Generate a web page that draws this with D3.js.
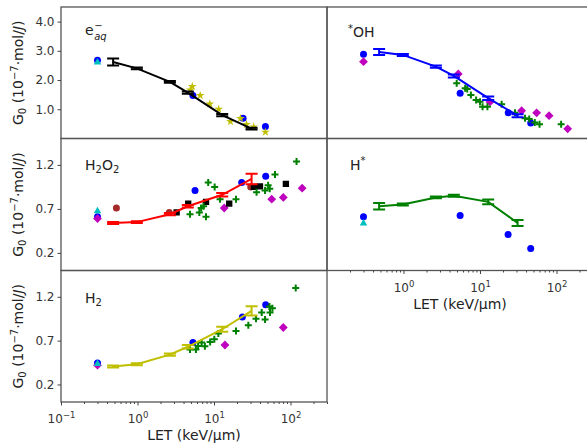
<!DOCTYPE html>
<html lang="en">
<head>
<meta charset="UTF-8">
<title>G0 versus LET</title>
<script src="https://d3js.org/d3.v7.min.js"></script>
<style>
  body { margin: 0; background: #fff; }
  text { font-family: "DejaVu Sans", sans-serif; fill: #222; }
  .frame { fill: none; stroke: #555; stroke-width: 1.3; }
  .axis path { display: none; }
  .axis line { stroke: #444; stroke-width: 1; }
  .axis text { font-size: 12px; fill: #333; font-family: "DejaVu Sans", sans-serif; }
  .sim { fill: none; stroke-width: 2; }
</style>
</head>
<body>
<div id="chart"></div>
<script>
const W = 587, H = 448;

// simulated points, same LET for every species (keV/um)
const letSim = [0.48, 0.98, 2.65, 4.55, 12.8, 31];

const eaqSim = [2.62, 2.40, 1.94, 1.57, 0.80, 0.34];
const eaqErr = [0.12, 0.03, 0.03, 0.04, 0.04, 0.03];
const ohSim = [2.96, 2.86, 2.46, 2.14, 1.38, 0.78];
const ohErr = [0.1, 0.035, 0.035, 0.05, 0.06, 0.05];
const h2o2Sim = [0.54, 0.55, 0.64, 0.73, 0.86, 1.04];
const h2o2Err = [0.012, 0.01, 0.012, 0.015, 0.02, 0.06];
const hSim = [0.73, 0.75, 0.83, 0.85, 0.78, 0.54];
const hErr = [0.036, 0.012, 0.01, 0.012, 0.027, 0.034];
const h2Sim = [0.405, 0.43, 0.54, 0.63, 0.83, 1.04];
const h2Err = [0.012, 0.012, 0.012, 0.02, 0.028, 0.053];

// measured values [LET, G]
const eaqBlue = [[0.3, 2.68], [5.3, 1.47], [24, 0.69], [47, 0.41]];
const eaqCyan = [[0.3, 2.62]];
const eaqStars = [[5.2, 1.78], [4.9, 1.66], [6.6, 1.47], [8.8, 1.18], [11.5, 1.0], [16.4, 0.58],
  [22.2, 0.69], [26.6, 0.48], [33, 0.40], [47, 0.22]];

const ohBlue = [[0.3, 2.88], [5.5, 1.55], [23.4, 0.88], [46, 0.53]];
const ohMag = [[0.3, 2.63], [5.2, 2.21], [13.5, 1.25], [35, 0.95], [55, 0.88], [80, 0.78], [140, 0.33]];
const ohGreen = [[4.96, 1.89], [6.4, 1.72], [6.8, 1.69], [7.6, 1.49], [8.9, 1.32], [10, 1.26], [10.8, 1.09],
  [12.5, 1.09], [19.2, 1.17], [28.7, 0.88], [38.8, 0.69], [44, 0.67], [52, 0.55], [60, 0.49], [115, 0.49]];

const h2o2Blue = [[0.3, 0.61], [5.65, 0.91], [23, 1.0], [47.4, 1.07]];
const h2o2Mag = [[0.3, 0.59], [13.6, 0.71], [56.8, 0.81], [80.5, 0.83], [142, 0.935]];
const h2o2Cyan = [[0.3, 0.68]];
const h2o2Brown = [[0.53, 0.71], [2.6, 0.66], [30.2, 0.95]];
const h2o2Black = [[3.25, 0.66], [4.6, 0.76], [7.86, 0.78], [15.8, 0.76], [33.3, 0.95], [39.9, 0.955], [87, 0.985]];
const h2o2Green = [[4.86, 0.64], [6.43, 0.66], [6.8, 0.71], [7.3, 0.73], [7.86, 0.61], [8.4, 1.0], [10.2, 0.95],
  [12, 0.81], [19.4, 0.81], [36, 0.89], [46.5, 0.91], [51, 0.97], [53.5, 0.93], [62.7, 1.09], [120, 1.24]];

const hBlue = [[0.3, 0.61], [5.5, 0.625], [23.3, 0.41], [46, 0.25]];
const hCyan = [[0.3, 0.54]];

const h2Blue = [[0.3, 0.445], [5.3, 0.68], [23.5, 0.97], [47.4, 1.11]];
const h2Mag = [[0.3, 0.42], [13.9, 0.65], [80.5, 0.85]];
const h2Cyan = [[0.3, 0.44]];
const h2Green = [[4.86, 0.60], [5.8, 0.60], [6.2, 0.64], [6.9, 0.68], [7.6, 0.635], [8.9, 0.685], [10.1, 0.715],
  [11.4, 0.78], [19.4, 0.81], [28.1, 0.875], [35.4, 0.95], [42, 1.02], [46.5, 0.94], [53, 1.09], [54, 1.02],
  [58, 1.07], [117, 1.30]];

const ticksTop = [1, 2, 3, 4];
const ticksLow = [0.2, 0.7, 1.2];
const xMajor = [0.1, 1, 10, 100];

const svg = d3.select("#chart").append("svg")
  .attr("width", W)
  .attr("height", H);

const colX = [61, 327], panelW = 266;
const rows = [[7, 138.5], [138.5, 270.5], [270.5, 402]];

const C = { blue: "#0000ff", mag: "#bf00bf", cyan: "#00bfbf", green: "#008000",
  yellow: "#bfbf00", black: "#000", red: "#ff0000", brown: "#a52a2a" };

const panels = [
  { col: 0, row: 0, top: 4.5, sim: eaqSim, err: eaqErr, color: C.black, name: "eaq",
    sets: [[eaqBlue, "circle", C.blue], [eaqCyan, "tri", C.cyan], [eaqStars, "star", C.yellow]] },
  { col: 1, row: 0, top: 4.5, sim: ohSim, err: ohErr, color: C.blue, name: "oh",
    sets: [[ohBlue, "circle", C.blue], [ohMag, "diamond", C.mag], [ohGreen, "plus", C.green]] },
  { col: 0, row: 1, top: 1.5, sim: h2o2Sim, err: h2o2Err, color: C.red, name: "h2o2",
    sets: [[h2o2Blue, "circle", C.blue], [h2o2Mag, "diamond", C.mag], [h2o2Cyan, "tri", C.cyan],
      [h2o2Brown, "circle", C.brown], [h2o2Black, "square", C.black], [h2o2Green, "plus", C.green]] },
  { col: 1, row: 1, top: 1.5, sim: hSim, err: hErr, color: C.green, name: "h",
    sets: [[hBlue, "circle", C.blue], [hCyan, "tri", C.cyan]] },
  { col: 0, row: 2, top: 1.5, sim: h2Sim, err: h2Err, color: C.yellow, name: "h2",
    sets: [[h2Blue, "circle", C.blue], [h2Mag, "diamond", C.mag], [h2Cyan, "tri", C.cyan], [h2Green, "plus", C.green]] }
];

const shapes = {
  tri: "M0,-4L3.8,2.6L-3.8,2.6Z",
  diamond: "M0,-4.4L4.4,0L0,4.4L-4.4,0Z",
  square: d3.symbol(d3.symbolSquare, 40)(),
  star: d3.symbol(d3.symbolStar, 24)(),
  plus: "M-3.5,0H3.5M0,-3.5V3.5"
};

function drawSet(g, data, kind, color, x, y) {
  const sel = g.append("g").selectAll(null).data(data).enter();
  if (kind === "circle") {
    sel.append("circle")
      .attr("cx", d => x(d[0]))
      .attr("cy", d => y(d[1]))
      .attr("r", 3.5)
      .attr("fill", color);
  } else {
    sel.append("path")
      .attr("d", shapes[kind])
      .attr("transform", d => `translate(${x(d[0])},${y(d[1])})`)
      .attr("fill", kind === "plus" ? "none" : color)
      .attr("stroke", kind === "plus" ? color : "none")
      .attr("stroke-width", 2);
  }
}

panels.forEach((p, i) => {
  const left = colX[p.col], [y0, y1] = rows[p.row];
  const x = d3.scaleLog().domain([0.1, 300]).range([left, left + panelW]);
  const y = d3.scaleLinear().domain([0, p.top]).range([y1, y0]);

  svg.append("clipPath").attr("id", "clip" + i)
    .append("rect").attr("x", left).attr("y", y0).attr("width", panelW).attr("height", y1 - y0);

  const g = svg.append("g").attr("clip-path", `url(#clip${i})`);

  p.sets.forEach(s => drawSet(g, s[0], s[1], s[2], x, y));

  // simulation line with error bars
  const pts = letSim.map((l, k) => ({ l: l, v: p.sim[k], e: p.err[k] }));
  g.append("path")
    .datum(pts)
    .attr("class", "sim")
    .attr("stroke", p.color)
    .attr("d", d3.line().x(d => x(d.l)).y(d => y(d.v)));
  const eb = g.append("g").attr("stroke", p.color).attr("stroke-width", 2);
  pts.forEach(d => {
    const cx = x(d.l);
    eb.append("line").attr("x1", cx).attr("x2", cx).attr("y1", y(d.v - d.e)).attr("y2", y(d.v + d.e));
    [d.v - d.e, d.v + d.e].forEach(v => {
      eb.append("line").attr("x1", cx - 6).attr("x2", cx + 6).attr("y1", y(v)).attr("y2", y(v));
    });
  });

  svg.append("rect").attr("class", "frame")
    .attr("x", left).attr("y", y0).attr("width", panelW).attr("height", y1 - y0);

  // y axis only on left column
  if (p.col === 0) {
    svg.append("g").attr("class", "axis")
      .attr("transform", `translate(${left},0)`)
      .call(d3.axisLeft(y).tickValues(p.row === 0 ? ticksTop : ticksLow)
        .tickSize(3.5).tickPadding(3).tickFormat(d3.format(".1f")));

    const lab = svg.append("text")
      .attr("transform", `translate(23,${(y0 + y1) / 2}) rotate(-90)`)
      .attr("text-anchor", "middle")
      .attr("font-size", "14px");
    lab.append("tspan").text("G");
    lab.append("tspan").attr("font-size", "10px").attr("dy", 3).text("0");
    lab.append("tspan").attr("dy", -3).text(" (10");
    lab.append("tspan").attr("font-size", "10px").attr("dy", -5).text("\u22127");
    lab.append("tspan").attr("dy", 5).text("\u00b7mol/");
    lab.append("tspan").attr("font-style", "italic").text("J");
    lab.append("tspan").text(")");
  }

  // x axis on the lowest panel of each column
  const lowest = (p.col === 0 && p.row === 2) || (p.col === 1 && p.row === 1);
  if (lowest) {
    const minor = [];
    xMajor.forEach(m => { for (let k = 2; k < 10; k++) if (k * m <= 300) minor.push(k * m); });
    svg.append("g").attr("class", "axis")
      .attr("transform", `translate(0,${y1})`)
      .call(d3.axisBottom(x).tickValues(minor).tickSize(2).tickFormat(""));
    const major = p.col === 0 ? xMajor : xMajor.slice(1);
    const ax = svg.append("g").attr("class", "axis")
      .attr("transform", `translate(0,${y1})`)
      .call(d3.axisBottom(x).tickValues(major).tickSize(3.5).tickFormat(""));
    ax.selectAll(".tick text").each(function (d) {
      const t = d3.select(this).attr("y", 21).attr("dy", 0);
      t.append("tspan").text("10");
      t.append("tspan").attr("font-size", "8.5px").attr("dy", -5)
        .text(String(Math.round(Math.log10(d))).replace("-", "\u2212"));
    });
    svg.append("text")
      .attr("x", left + panelW / 2)
      .attr("y", y1 + 38)
      .attr("text-anchor", "middle")
      .attr("font-size", "14px")
      .text("LET (keV/\u03bcm)");
  }
});

// species labels
const eLab = svg.append("text").attr("x", 85).attr("y", 35).attr("font-size", "14px").text("e");
const ew = eLab.node().getComputedTextLength();
svg.append("text").attr("x", 85 + ew + 0.5).attr("y", 29).attr("font-size", "10px").text("\u2212");
svg.append("text").attr("x", 85 + ew + 0.5).attr("y", 40).attr("font-size", "10px")
  .attr("font-style", "italic").text("aq");

const ohLab = svg.append("text").attr("x", 348).attr("y", 36.5).attr("font-size", "14px");
ohLab.append("tspan").attr("font-size", "10px").attr("dy", -5).text("*");
ohLab.append("tspan").attr("dy", 5).text("OH");

const pLab = svg.append("text").attr("x", 85).attr("y", 170).attr("font-size", "14px");
pLab.append("tspan").text("H");
pLab.append("tspan").attr("font-size", "10px").attr("dy", 3).text("2");
pLab.append("tspan").attr("dy", -3).text("O");
pLab.append("tspan").attr("font-size", "10px").attr("dy", 3).text("2");

const hLab = svg.append("text").attr("x", 350).attr("y", 170).attr("font-size", "14px");
hLab.append("tspan").text("H");
hLab.append("tspan").attr("font-size", "10px").attr("dy", -6).text("*");

const h2Lab = svg.append("text").attr("x", 85).attr("y", 303).attr("font-size", "14px");
h2Lab.append("tspan").text("H");
h2Lab.append("tspan").attr("font-size", "10px").attr("dy", 3).text("2");
</script>
</body>
</html>
